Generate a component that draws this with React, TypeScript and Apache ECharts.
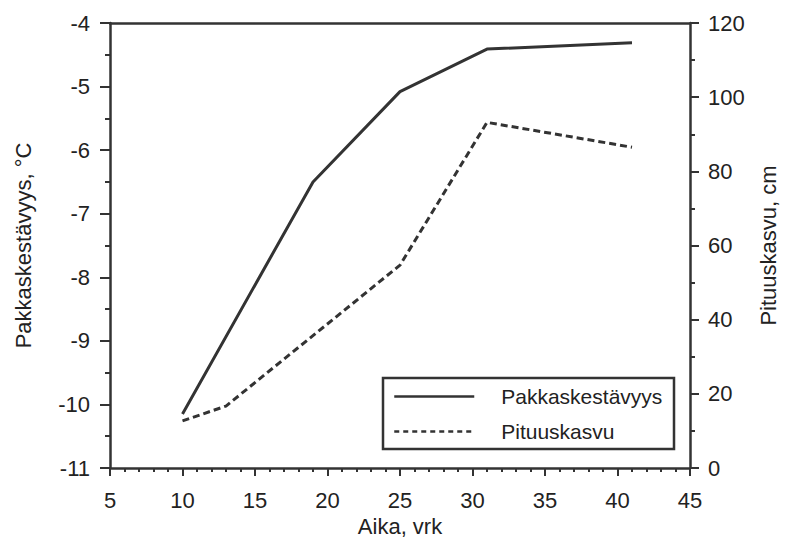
import React, { useEffect, useRef } from "react";
import * as echarts from "echarts";

const xTicks = { min: 5, max: 45, interval: 5 };
const leftTicks = { min: -11, max: -4, interval: 1 };
const rightTicks = { min: 0, max: 120, interval: 20 };

const frostDays = [10, 19, 25, 31, 41];
const frostHardiness = [-10.15, -6.5, -5.08, -4.41, -4.31];

const growthDays = [10, 13, 25, 31, 41];
const heightGrowth = [12.7, 16.7, 54.7, 93.2, 86.5];

const seriesNames = ["Pakkaskestävyys", "Pituuskasvu"];
const xName = "Aika, vrk";
const leftName = "Pakkaskestävyys, °C";
const rightName = "Pituuskasvu, cm";

const INK = "#333";
const TXT = "#222";
const FONT = "'Liberation Sans', Arial, Helvetica, sans-serif";

export default function App() {
  const ref = useRef<HTMLDivElement>(null);
  useEffect(() => {
    if (!ref.current) return;
    const chart = echarts.init(ref.current, null, { renderer: "svg" });
    const axisLine = { show: true, lineStyle: { color: INK, width: 2.5 } };
    const labelBase = { color: TXT, fontSize: 22, fontFamily: FONT };
    chart.setOption({
      animation: false,
      backgroundColor: "#fff",
      grid: { left: 110, right: 101, top: 23, bottom: 80, containLabel: false },
      legend: {
        orient: "vertical",
        left: 393,
        top: 386,
        padding: 0,
        itemWidth: 80,
        itemHeight: 20,
        itemGap: 14,
        itemStyle: { opacity: 0 },
        textStyle: { color: TXT, fontSize: 21, fontFamily: FONT, padding: [0, 0, 0, 22] },
        data: [
          { name: seriesNames[0], lineStyle: { width: 2.5 } },
          { name: seriesNames[1], lineStyle: { width: 2.5, type: [5, 4] } },
        ],
      },
      graphic: [
        {
          type: "rect",
          shape: { x: 383, y: 378, width: 291, height: 71 },
          style: { fill: "none", stroke: INK, lineWidth: 2.5 },
          z: 100,
        },
      ],
      xAxis: [
        {
          type: "value",
          position: "bottom",
          min: xTicks.min,
          max: xTicks.max,
          interval: xTicks.interval,
          name: xName,
          nameLocation: "middle",
          nameGap: 43,
          nameTextStyle: labelBase,
          axisLine,
          axisTick: { show: true, inside: false, length: 8, lineStyle: { color: INK, width: 2 } },
          minorTick: { show: true, splitNumber: 5, length: 4, lineStyle: { color: INK, width: 2 } },
          axisLabel: { ...labelBase, margin: 21 },
          splitLine: { show: false },
        },
        {
          type: "value",
          position: "top",
          min: xTicks.min,
          max: xTicks.max,
          axisLine,
          axisTick: { show: false },
          axisLabel: { show: false },
          splitLine: { show: false },
        },
      ],
      yAxis: [
        {
          type: "value",
          position: "left",
          min: leftTicks.min,
          max: leftTicks.max,
          interval: leftTicks.interval,
          name: leftName,
          nameLocation: "middle",
          nameGap: 76,
          nameTextStyle: labelBase,
          axisLine,
          axisTick: { show: true, inside: false, length: 10, lineStyle: { color: INK, width: 2 } },
          minorTick: { show: true, splitNumber: 2, length: 5, lineStyle: { color: INK, width: 2 } },
          axisLabel: { ...labelBase, margin: 20, padding: [0, 0, 8, 0] },
          splitLine: { show: false },
        },
        {
          type: "value",
          position: "right",
          min: rightTicks.min,
          max: rightTicks.max,
          interval: rightTicks.interval,
          name: rightName,
          nameLocation: "middle",
          nameGap: 67,
          nameTextStyle: labelBase,
          axisLine,
          axisTick: { show: true, inside: false, length: 9, lineStyle: { color: INK, width: 2 } },
          minorTick: { show: true, splitNumber: 2, length: 5, lineStyle: { color: INK, width: 2 } },
          axisLabel: { ...labelBase, margin: 18, padding: [10, 0, 0, 0] },
          splitLine: { show: false },
        },
      ],
      series: [
        {
          name: seriesNames[0],
          type: "line",
          xAxisIndex: 0,
          yAxisIndex: 0,
          symbol: "none",
          data: frostDays.map((d, i) => [d, frostHardiness[i]]),
          lineStyle: { color: INK, width: 3, type: "solid" },
          itemStyle: { color: INK },
        },
        {
          name: seriesNames[1],
          type: "line",
          xAxisIndex: 0,
          yAxisIndex: 1,
          symbol: "none",
          data: growthDays.map((d, i) => [d, heightGrowth[i]]),
          lineStyle: { color: INK, width: 3, type: [7, 4] },
          itemStyle: { color: INK },
        },
      ],
    });
    return () => chart.dispose();
  }, []);
  return <div ref={ref} style={{ width: 791, height: 548, position: "absolute", left: 0, top: 0 }} />;
}
